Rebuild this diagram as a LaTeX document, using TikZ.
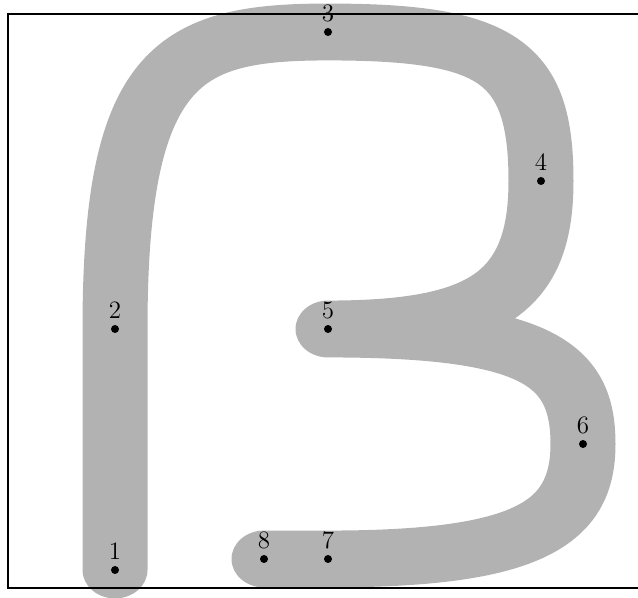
\documentclass[tikz,border=0pt]{standalone}
\tikzset{
  penstroke/.style={line width=32.5pt, draw=gray!60, line cap=round, line join=round},
  ptdot/.style={circle, fill=black, inner sep=0pt, minimum size=4pt},
  ptlabel/.style={anchor=base, font=\fontsize{12.5}{15}\selectfont, inner sep=0pt},
  framebox/.style={draw=black, line width=0.6pt}
}
\begin{document}
\begin{tikzpicture}[x=0.5pt,y=-0.5pt]
\useasboundingbox (0,0) rectangle (638,598);
\begin{scope}[transform canvas={yscale=0.875}, y=-0.571429pt]
  \draw[penstroke] (115,570) -- (115,329)
    .. controls (115,62) and (180,32) .. (328,32)
    .. controls (498,32) and (541,61) .. (541,181)
    .. controls (541,291) and (488,329) .. (328,329)
    .. controls (538,329) and (583,364) .. (583,444)
    .. controls (583,524) and (528,559) .. (328,559) -- (264,559);
\end{scope}
\draw[framebox] (8,14) rectangle (645,588);
\node[ptdot] (p1) at (115,570) {};
\node[ptdot] (p2) at (115,329) {};
\node[ptdot] (p3) at (328,32) {};
\node[ptdot] (p4) at (541,181) {};
\node[ptdot] (p5) at (328,329) {};
\node[ptdot] (p6) at (583,444) {};
\node[ptdot] (p7) at (328,559) {};
\node[ptdot] (p8) at (264,559) {};
\node[ptlabel] (l1) at (115,560) {1};
\node[ptlabel] (l2) at (115,319) {2};
\node[ptlabel] (l3) at (328,22) {3};
\node[ptlabel] (l4) at (541,171) {4};
\node[ptlabel] (l5) at (328,319) {5};
\node[ptlabel] (l6) at (583,434) {6};
\node[ptlabel] (l7) at (328,549) {7};
\node[ptlabel] (l8) at (264,549) {8};
\end{tikzpicture}
\end{document}
